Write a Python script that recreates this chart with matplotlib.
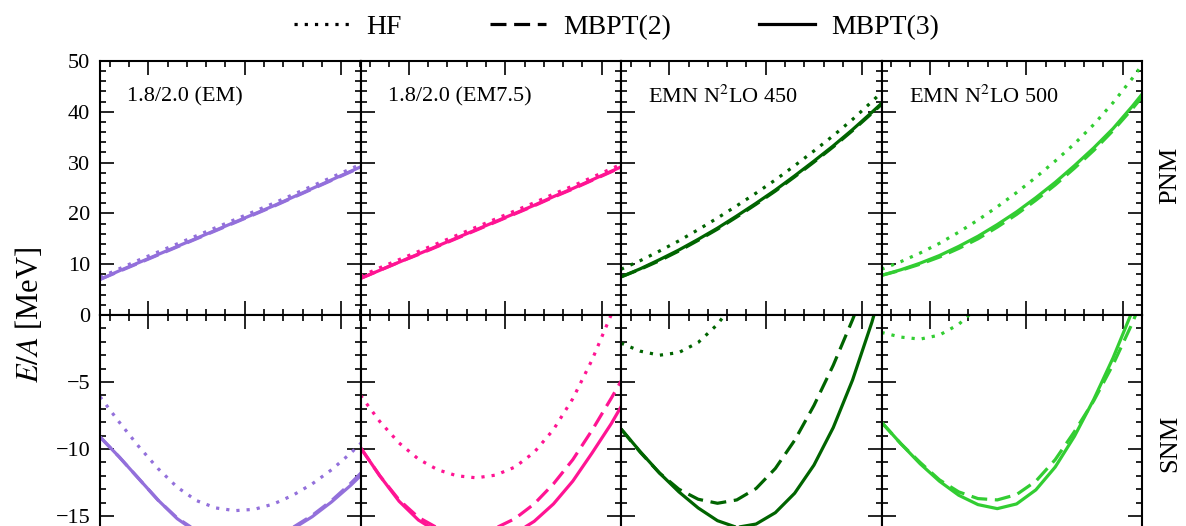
import numpy as np
import matplotlib
matplotlib.use("Agg")
import matplotlib.pyplot as plt
from matplotlib.lines import Line2D
from matplotlib.ticker import MultipleLocator, FuncFormatter

# ---------------- data ----------------
density = [0.05, 0.07, 0.09, 0.11, 0.13, 0.15, 0.17, 0.19, 0.21, 0.23, 0.25, 0.27, 0.29, 0.31, 0.33]

interactions = ["1.8/2.0 (EM)", "1.8/2.0 (EM7.5)", "EMN N$^2$LO 450", "EMN N$^2$LO 500"]
methods = ["HF", "MBPT(2)", "MBPT(3)"]
row_names = ["PNM", "SNM"]

# pure neutron matter, E/A [MeV]
em_pnm_hf      = [7.4, 9.1, 10.8, 12.4, 14.0, 15.6, 17.2, 18.8, 20.4, 22.0, 23.7, 25.4, 27.1, 28.8, 30.5]
em_pnm_mbpt2   = [7.0, 8.6, 10.2, 11.8, 13.4, 15.0, 16.6, 18.2, 19.8, 21.4, 23.1, 24.8, 26.5, 28.2, 29.9]
em_pnm_mbpt3   = [7.0, 8.7, 10.3, 11.9, 13.5, 15.1, 16.7, 18.3, 19.9, 21.5, 23.2, 24.9, 26.6, 28.3, 30.0]
em75_pnm_hf    = [7.6, 9.3, 10.9, 12.5, 14.1, 15.7, 17.3, 18.9, 20.5, 22.1, 23.8, 25.4, 27.1, 28.8, 30.5]
em75_pnm_mbpt2 = [7.2, 8.8, 10.4, 11.9, 13.5, 15.1, 16.7, 18.3, 19.9, 21.5, 23.2, 24.8, 26.5, 28.2, 29.9]
em75_pnm_mbpt3 = [7.2, 8.8, 10.4, 12.0, 13.6, 15.2, 16.8, 18.4, 20.0, 21.6, 23.3, 24.9, 26.6, 28.3, 30.0]
n450_pnm_hf    = [9.0, 10.7, 12.6, 14.6, 16.8, 19.1, 21.5, 24.0, 26.6, 29.4, 32.3, 35.3, 38.5, 42.0, 45.6]
n450_pnm_mbpt2 = [7.5, 9.0, 10.7, 12.6, 14.7, 16.9, 19.3, 21.8, 24.4, 27.2, 30.1, 33.1, 36.3, 39.7, 43.2]
n450_pnm_mbpt3 = [7.5, 9.1, 10.9, 12.8, 14.9, 17.1, 19.5, 22.0, 24.6, 27.4, 30.3, 33.3, 36.5, 39.9, 43.4]
n500_pnm_hf    = [9.0, 10.5, 12.2, 14.1, 16.3, 18.7, 21.3, 24.1, 27.1, 30.3, 33.7, 37.5, 41.8, 46.6, 51.8]
n500_pnm_mbpt2 = [7.8, 8.8, 10.0, 11.4, 13.1, 15.0, 17.3, 19.8, 22.6, 25.6, 28.9, 32.4, 36.3, 40.6, 45.2]
n500_pnm_mbpt3 = [7.8, 8.9, 10.2, 11.7, 13.5, 15.5, 17.8, 20.3, 23.1, 26.1, 29.4, 32.9, 36.7, 41.1, 45.8]

# symmetric nuclear matter, E/A [MeV]
em_snm_hf      = [-6.1, -8.0, -9.8, -11.45, -12.85, -13.85, -14.4, -14.6, -14.5, -14.1, -13.45, -12.6, -11.55, -10.3, -8.9]
em_snm_mbpt2   = [-9.1, -10.6, -12.2, -13.8, -15.15, -16.1, -16.7, -16.95, -16.9, -16.5, -15.85, -14.95, -13.85, -12.55, -11.1]
em_snm_mbpt3   = [-9.1, -10.6, -12.2, -13.8, -15.2, -16.2, -16.8, -17.05, -17.0, -16.6, -15.95, -15.05, -13.95, -12.7, -11.3]
em75_snm_hf    = [-6.0, -7.95, -9.55, -10.75, -11.55, -12.0, -12.15, -11.95, -11.35, -10.25, -8.55, -6.25, -3.35, 0.05, 3.9]
em75_snm_mbpt2 = [-9.9, -12.0, -13.8, -15.1, -15.9, -16.2, -16.2, -15.9, -15.2, -14.1, -12.6, -10.8, -8.6, -6.2, -3.7]
em75_snm_mbpt3 = [-9.9, -12.0, -13.9, -15.3, -16.2, -16.7, -16.9, -16.8, -16.3, -15.4, -14.1, -12.4, -10.3, -8.1, -5.6]
n450_snm_hf    = [-2.1, -2.7, -3.0, -2.8, -2.05, -0.7, 1.2, 3.7, 7.0, 10.0, 13.0, 16.0, 19.0, 22.0, 25.0]
n450_snm_mbpt2 = [-8.5, -10.25, -11.8, -13.0, -13.75, -14.05, -13.8, -12.95, -11.45, -9.35, -6.75, -3.75, -0.35, 3.35, 7.2]
n450_snm_mbpt3 = [-8.5, -10.2, -11.8, -13.2, -14.4, -15.35, -15.85, -15.6, -14.75, -13.3, -11.2, -8.4, -4.85, -0.55, 4.5]
n500_snm_hf    = [-1.3, -1.65, -1.8, -1.5, -0.7, 0.6, 2.3, 4.5, 7.0, 10.0, 13.0, 16.0, 19.0, 22.0, 25.0]
n500_snm_mbpt2 = [-8.0, -9.6, -11.0, -12.3, -13.2, -13.7, -13.8, -13.4, -12.4, -10.8, -8.7, -6.4, -3.7, -0.6, 3.0]
n500_snm_mbpt3 = [-8.0, -9.6, -11.1, -12.4, -13.45, -14.15, -14.45, -14.1, -13.05, -11.35, -9.05, -6.3, -3.2, 0.3, 4.1]

pnm = [
    [em_pnm_hf, em_pnm_mbpt2, em_pnm_mbpt3],
    [em75_pnm_hf, em75_pnm_mbpt2, em75_pnm_mbpt3],
    [n450_pnm_hf, n450_pnm_mbpt2, n450_pnm_mbpt3],
    [n500_pnm_hf, n500_pnm_mbpt2, n500_pnm_mbpt3],
]
snm = [
    [em_snm_hf, em_snm_mbpt2, em_snm_mbpt3],
    [em75_snm_hf, em75_snm_mbpt2, em75_snm_mbpt3],
    [n450_snm_hf, n450_snm_mbpt2, n450_snm_mbpt3],
    [n500_snm_hf, n500_snm_mbpt2, n500_snm_mbpt3],
]

# ---------------- style ----------------
colors = ["#9370DB", "#FF1493", "#006400", "#32CD32"]
linestyles = [(0, (1, 2.2)), (0, (5, 2.4)), "-"]
LW = 2.3

plt.rcParams["font.family"] = ["Liberation Serif", "DejaVu Serif"]
plt.rcParams["mathtext.fontset"] = "stix"

W, H = 1186, 526
fig = plt.figure(figsize=(W / 100, H / 100), dpi=100)

x0 = 100 / W
pw = 260.5 / W
top_bottom = 1 - 315 / H
top_height = (315 - 61) / H
bot_height = 268 / H
bot_bottom = top_bottom - bot_height


def minus_fmt(v, pos):
    if abs(v) < 1e-9:
        return ""
    s = f"{v:g}"
    return s.replace("-", "\u2212")


def style_axis(ax, show_left):
    ax.tick_params(which="both", direction="in", top=True, right=True,
                   labelsize=16, width=1.2, pad=7)
    ax.tick_params(which="major", length=10)
    ax.tick_params(which="minor", length=4.5)
    ax.tick_params(labelbottom=False, labelleft=show_left)
    ax.xaxis.set_major_locator(MultipleLocator(0.1))
    ax.xaxis.set_minor_locator(MultipleLocator(0.02))
    for sp in ax.spines.values():
        sp.set_linewidth(1.5)


for j in range(4):
    ax_t = fig.add_axes([x0 + j * pw, top_bottom, pw, top_height])
    ax_b = fig.add_axes([x0 + j * pw, bot_bottom, pw, bot_height])

    for k in range(3):
        ax_t.plot(density, pnm[j][k], color=colors[j], linestyle=linestyles[k],
                  lw=LW, solid_capstyle="butt", solid_joinstyle="round")
        ax_b.plot(density, snm[j][k], color=colors[j], linestyle=linestyles[k],
                  lw=LW, solid_capstyle="butt", solid_joinstyle="round")

    for ax in (ax_t, ax_b):
        ax.set_xlim(0.05, 0.32)
        style_axis(ax, j == 0)

    ax_t.set_ylim(0, 50)
    ax_t.yaxis.set_major_locator(MultipleLocator(10))
    ax_t.yaxis.set_minor_locator(MultipleLocator(2))

    ax_b.set_ylim(-20, 0)
    ax_b.yaxis.set_major_locator(MultipleLocator(5))
    ax_b.yaxis.set_minor_locator(MultipleLocator(1))
    ax_b.yaxis.set_major_formatter(FuncFormatter(minus_fmt))

    ax_t.text(0.104, 0.858, interactions[j], transform=ax_t.transAxes,
              fontsize=16, ha="left", va="center")

    if j == 3:
        ax_t.text(1.107, 0.55, row_names[0], transform=ax_t.transAxes,
                  rotation=90, fontsize=19, ha="center", va="center")
        ax_b.text(1.107, 0.52, row_names[1], transform=ax_b.transAxes,
                  rotation=90, fontsize=19, ha="center", va="center")

fig.text(30 / W, 1 - 315 / H, "$E/A$ [MeV]", rotation=90, fontsize=22,
         ha="center", va="center")

handles = [Line2D([], [], color="black", linestyle=linestyles[k], lw=LW)
           for k in range(3)]
fig.legend(handles, methods, loc="upper center", bbox_to_anchor=(0.52, 1.02),
           ncol=3, frameon=False, fontsize=20, handlelength=2.0,
           columnspacing=3.2, handletextpad=0.6)

fig.savefig("out.png", dpi=100)
